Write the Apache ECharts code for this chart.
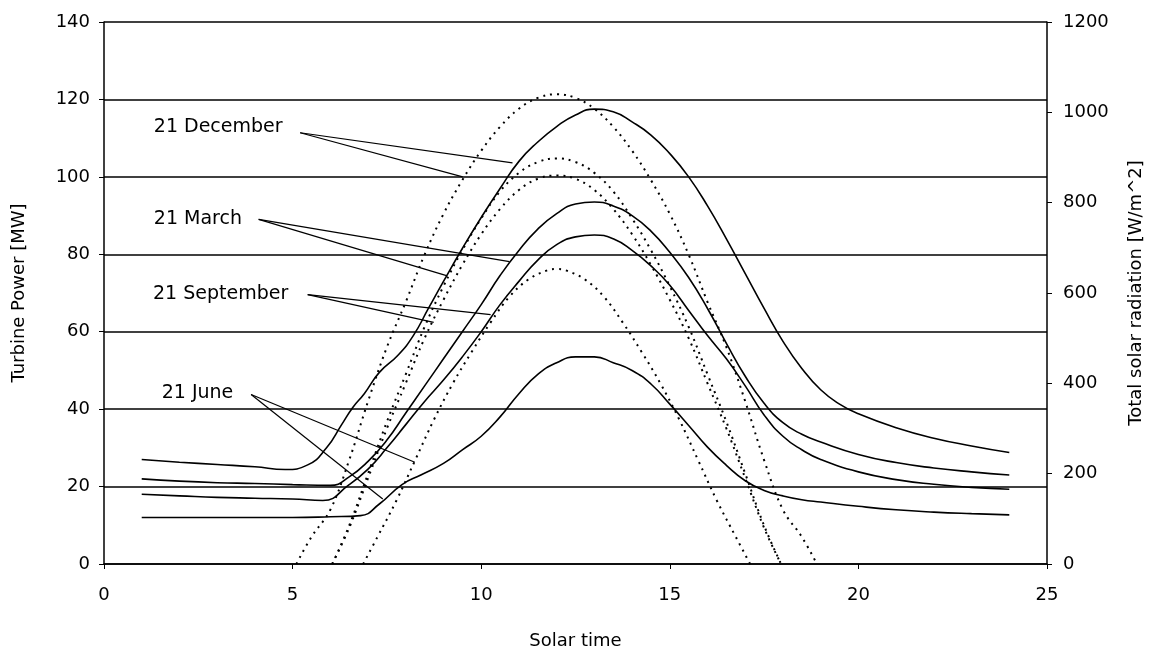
<!DOCTYPE html>
<html>
<head>
<meta charset="utf-8">
<title>Turbine power and solar radiation</title>
<script src="https://cdn.jsdelivr.net/npm/echarts/dist/echarts.min.js"></script>
<style>
  html, body { margin: 0; padding: 0; background: #fff; }
  #chart { width: 1153px; height: 655px; }
</style>
</head>
<body>
<div id="chart"></div>
<script>
// turbine power [MW] against solar time, one list per day
const powerDec = [[1,27],[2,26.3],[3,25.7],[4,25.1],[4.8,24.4],[5.4,25.6],[5.9,30],[6.3,36],[6.6,40.5],[6.9,44],[7.3,49.5],[7.8,54],[8.2,59],[8.6,66],[9,73],[9.5,81.5],[10,89.5],[10.5,97],[11,104],[11.5,109],[12,113],[12.5,116],[13,117.5],[13.5,116.8],[14,114.2],[14.5,110.8],[15,106],[15.5,100],[16,92.5],[16.5,84],[17,75],[17.5,66],[18,57.5],[18.5,50.5],[19,45],[19.5,41.3],[20,38.8],[21,35.2],[22,32.5],[23,30.5],[24,28.8]];
const powerMar = [[1,22],[2,21.4],[3,21],[4,20.8],[5,20.5],[6,20.3],[6.5,22.5],[7,26.5],[7.5,32],[8,39],[8.5,46],[9,53],[9.5,60],[10,67],[10.5,74.5],[11,81],[11.5,86.5],[12,90.5],[12.5,93],[13,93.5],[13.5,92.5],[14,90],[14.5,86],[15,80.5],[15.5,74],[16,66],[16.5,57],[17,48.5],[17.5,41.5],[18,36.5],[18.5,33.5],[19,31.5],[20,28.3],[21,26.2],[22,24.8],[23,23.8],[24,23]];
const powerSep = [[1,18],[2,17.6],[3,17.2],[4,17],[5,16.8],[5.8,16.4],[6.5,20.5],[7,24.5],[7.5,30],[8,36],[8.5,42],[9,47.5],[9.5,53.5],[10,60],[10.5,67],[11,73],[11.5,78.5],[12,82.5],[12.5,84.5],[13,85],[13.5,84],[14,81],[14.5,77],[15,72],[15.5,65.5],[16,59],[16.5,53],[17,46],[17.5,38.5],[18,33],[18.5,29.5],[19,27],[20,23.8],[21,21.8],[22,20.6],[23,19.8],[24,19.3]];
const powerJun = [[1,12],[2,12],[3,12],[4,12],[5,12],[6,12.2],[6.8,12.5],[7.3,15.5],[7.9,20.5],[8.4,23],[9,26],[9.5,29.5],[10,33],[10.5,38],[11,44],[11.5,49],[12,52],[12.5,53.5],[13,53.5],[13.5,52],[14,50],[14.5,46.5],[15,41.3],[15.5,35.8],[16,30.2],[16.5,25.5],[17,21.5],[17.5,19],[18,17.6],[18.5,16.6],[19,16],[20,14.9],[21,14],[22,13.4],[23,13],[24,12.7]];

// total solar radiation [W/m^2] against solar time
const radDec = [[5.1,0],[5.5,60],[6,120],[6.5,230],[7,360],[7.5,480],[8,580],[8.5,685],[9,775],[9.5,850],[10,915],[10.5,968],[11,1008],[11.5,1032],[12,1040],[12.5,1032],[13,1008],[13.5,968],[14,915],[14.5,850],[15,775],[15.5,685],[16,580],[16.5,480],[17,360],[17.5,230],[18,120],[18.5,60],[18.9,0]];
const radMar = [[6.05,0],[6.5,85],[7,200],[7.5,315],[8,420],[8.5,525],[9,615],[9.5,695],[10,765],[10.5,825],[11,866],[11.5,890],[12,898],[12.5,890],[13,866],[13.5,825],[14,765],[14.5,695],[15,615],[15.5,525],[16,420],[16.5,315],[17,200],[17.5,85],[17.95,0]];
const radSep = [[6.05,0],[6.5,80],[7,190],[7.5,300],[8,400],[8.5,500],[9,585],[9.5,662],[10,730],[10.5,786],[11,828],[11.5,853],[12,860],[12.5,853],[13,828],[13.5,786],[14,730],[14.5,662],[15,585],[15.5,500],[16,400],[16.5,300],[17,190],[17.5,80],[17.95,0]];
const radJun = [[6.87,0],[7.25,60],[7.75,140],[8.25,230],[8.75,320],[9.25,400],[9.75,470],[10.25,535],[10.75,592],[11.25,630],[11.75,650],[12,653],[12.25,650],[12.75,630],[13.25,592],[13.75,535],[14.25,470],[14.75,400],[15.25,320],[15.75,230],[16.25,140],[16.75,60],[17.13,0]];

// day labels and their pointer lines (left-axis units)
const noteNames = ['21 December', '21 March', '21 September', '21 June'];
const noteAt = [[1.32,112.9],[1.32,89],[1.3,69.8],[1.53,44.2]];
const noteFrom = [[5.2,111.4],[4.1,89],[5.4,69.6],[3.9,43.8]];
const noteToSolid = [[10.83,103.6],[10.75,78.1],[10.25,64.4],[7.39,16.8]];
const noteToDotted = [[9.51,100],[9.08,74.5],[8.74,62.4],[8.24,26.3]];

const xTicks = { min: 0, max: 25, step: 5 };
const leftTicks = { min: 0, max: 140, step: 20 };
const rightTicks = { min: 0, max: 1200, step: 200 };

const font = 'DejaVu Sans';

function solid(name, data) {
  return { name: name, type: 'line', yAxisIndex: 0, data: data, smooth: 0.5,
    showSymbol: false, lineStyle: { color: '#000', width: 1.6 } };
}
function dotted(name, data) {
  return { name: name, type: 'line', yAxisIndex: 1, data: data, smooth: 0.4,
    showSymbol: false, lineStyle: { color: '#000', width: 2, type: [2, 5] } };
}

let pointers = [];
for (let i = 0; i < noteNames.length; i++) {
  pointers.push({ coords: [noteFrom[i], noteToSolid[i]] });
  pointers.push({ coords: [noteFrom[i], noteToDotted[i]] });
}

let myChart = echarts.init(document.getElementById('chart'));
myChart.setOption({
  animation: false,
  textStyle: { fontFamily: font, color: '#000' },
  grid: { left: 104, right: 105, top: 22, bottom: 90 },
  xAxis: {
    type: 'value', min: xTicks.min, max: xTicks.max, interval: xTicks.step,
    name: 'Solar time', nameLocation: 'middle', nameGap: 68,
    nameTextStyle: { fontFamily: font, fontSize: 18, color: '#000' },
    axisLine: { lineStyle: { color: '#000', width: 1.5 } },
    axisTick: { show: true, inside: false, length: 5, lineStyle: { color: '#000' } },
    axisLabel: { fontFamily: font, fontSize: 18, color: '#000', margin: 22 },
    splitLine: { show: false }
  },
  yAxis: [
    {
      type: 'value', min: leftTicks.min, max: leftTicks.max, interval: leftTicks.step,
      name: 'Turbine Power [MW]', nameLocation: 'middle', nameGap: 76, nameRotate: 90,
      nameTextStyle: { fontFamily: font, fontSize: 18, color: '#000' },
      axisLine: { show: true, lineStyle: { color: '#000', width: 1.5 } },
      axisTick: { show: true, length: 5, lineStyle: { color: '#000' } },
      axisLabel: { fontFamily: font, fontSize: 18, color: '#000', margin: 14 },
      splitLine: { show: true, lineStyle: { color: '#000', width: 1.5 } }
    },
    {
      type: 'value', position: 'right', min: rightTicks.min, max: rightTicks.max, interval: rightTicks.step,
      name: 'Total solar radiation [W/m^2]', nameLocation: 'middle', nameGap: 80, nameRotate: 90,
      nameTextStyle: { fontFamily: font, fontSize: 18, color: '#000' },
      axisLine: { show: true, lineStyle: { color: '#000', width: 1.5 } },
      axisTick: { show: true, length: 5, lineStyle: { color: '#000' } },
      axisLabel: { fontFamily: font, fontSize: 18, color: '#000', margin: 16,
        formatter: v => String(v) },
      splitLine: { show: false }
    }
  ],
  series: [
    solid('Power 21 December', powerDec),
    solid('Power 21 March', powerMar),
    solid('Power 21 September', powerSep),
    solid('Power 21 June', powerJun),
    dotted('Radiation 21 December', radDec),
    dotted('Radiation 21 March', radMar),
    dotted('Radiation 21 September', radSep),
    dotted('Radiation 21 June', radJun),
    {
      type: 'lines', coordinateSystem: 'cartesian2d', xAxisIndex: 0, yAxisIndex: 0,
      silent: true, data: pointers, lineStyle: { color: '#000', width: 1.2, opacity: 1 }
    },
    {
      type: 'scatter', yAxisIndex: 0, silent: true, symbolSize: 0,
      itemStyle: { color: '#000' },
      data: noteNames.map((n, i) => [noteAt[i][0], noteAt[i][1], n]),
      label: {
        show: true, position: 'right', distance: 0,
        formatter: p => p.data[2],
        fontFamily: font, fontSize: 19, color: '#000', opacity: 1
      }
    }
  ]
});
</script>
</body>
</html>
